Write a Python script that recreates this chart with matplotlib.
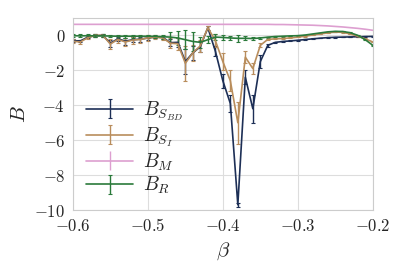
import matplotlib
matplotlib.use("Agg")
import matplotlib.pyplot as plt
from matplotlib.ticker import FuncFormatter
import seaborn as sns

sns.set_style("whitegrid")
plt.rcParams['mathtext.fontset'] = 'cm'
plt.rcParams['font.family'] = ['DejaVu Serif']

beta = [-0.60, -0.59, -0.58, -0.57, -0.56, -0.55, -0.54, -0.53, -0.52, -0.51,
        -0.50, -0.49, -0.48, -0.47, -0.46, -0.45, -0.44, -0.43, -0.42, -0.41,
        -0.40, -0.39, -0.38, -0.37, -0.36, -0.35, -0.34, -0.33, -0.32, -0.31,
        -0.30, -0.29, -0.28, -0.27, -0.26, -0.25, -0.24, -0.23, -0.22, -0.21,
        -0.20]

b_sbd = [-0.30, -0.32, -0.10, -0.02, 0.00, -0.45, -0.20, -0.33, -0.25, -0.22,
         -0.15, -0.10, -0.12, -0.42, -0.40, -1.50, -1.00, -0.65, 0.44, -0.90,
         -2.60, -3.90, -9.70, -2.40, -4.20, -1.50, -0.57, -0.40, -0.35, -0.32,
         -0.28, -0.24, -0.20, -0.16, -0.13, -0.11, -0.10, -0.09, -0.08, -0.07,
         -0.06]
err_sbd = [0.08, 0.08, 0.08, 0.08, 0.08, 0.20, 0.12, 0.20, 0.15, 0.15,
           0.12, 0.08, 0.08, 0.20, 0.25, 0.70, 0.40, 0.30, 0.12, 0.30,
           0.40, 0.50, 0.10, 0.40, 0.80, 0.35, 0.08, 0.04, 0.03, 0.03,
           0.02, 0.02, 0.02, 0.02, 0.02, 0.02, 0.02, 0.02, 0.02, 0.02,
           0.02]

b_si = [-0.34, -0.38, -0.13, 0.00, 0.00, -0.50, -0.23, -0.38, -0.27, -0.23,
        -0.15, -0.10, -0.15, -0.45, -0.48, -1.60, -1.00, -0.60, 0.44, -0.30,
        -1.50, -2.60, -5.00, -1.25, -1.90, -0.57, -0.23, -0.20, -0.18, -0.15,
        -0.10, -0.05, 0.02, 0.08, 0.14, 0.19, 0.17, 0.08, -0.05, -0.20,
        -0.38]
err_si = [0.12, 0.12, 0.08, 0.08, 0.08, 0.30, 0.18, 0.25, 0.20, 0.20,
          0.15, 0.12, 0.12, 0.30, 0.35, 1.00, 0.45, 0.35, 0.12, 0.35,
          0.50, 0.60, 1.20, 0.35, 0.30, 0.12, 0.04, 0.03, 0.03, 0.03,
          0.02, 0.02, 0.02, 0.02, 0.02, 0.02, 0.02, 0.02, 0.02, 0.02,
          0.02]

b_m = [0.63, 0.63, 0.63, 0.63, 0.63, 0.63, 0.63, 0.63, 0.63, 0.63,
       0.63, 0.63, 0.63, 0.63, 0.63, 0.63, 0.63, 0.63, 0.63, 0.63,
       0.63, 0.63, 0.63, 0.63, 0.63, 0.63, 0.63, 0.62, 0.62, 0.61,
       0.60, 0.59, 0.58, 0.56, 0.54, 0.51, 0.48, 0.44, 0.40, 0.35,
       0.29]
err_m = [0.0] * len(beta)

b_r = [-0.02, -0.03, -0.02, -0.03, -0.03, -0.04, -0.05, -0.05, -0.05, -0.05,
       -0.05, -0.06, -0.08, -0.10, -0.15, -0.25, -0.35, -0.40, -0.25, -0.10,
       -0.12, -0.15, -0.17, -0.17, -0.18, -0.15, -0.10, -0.07, -0.05, -0.03,
       -0.02, 0.02, 0.08, 0.14, 0.20, 0.23, 0.22, 0.15, 0.00, -0.25,
       -0.57]
err_r = [0.08, 0.08, 0.08, 0.08, 0.08, 0.08, 0.08, 0.08, 0.08, 0.08,
         0.08, 0.08, 0.12, 0.30, 0.40, 0.55, 0.55, 0.30, 0.20, 0.15,
         0.12, 0.12, 0.20, 0.12, 0.08, 0.05, 0.03, 0.02, 0.02, 0.02,
         0.02, 0.02, 0.02, 0.02, 0.02, 0.02, 0.02, 0.02, 0.02, 0.02,
         0.02]

fig = plt.figure(figsize=(4.07, 2.71), dpi=100)
ax = fig.add_axes([0.179, 0.225, 0.737, 0.709])

kw = dict(lw=1.2, elinewidth=1.0, capsize=1.2, capthick=0.8)
ax.errorbar(beta, b_sbd, yerr=err_sbd, color='#1d2f56', label=r'$B_{S_{BD}}$', **kw)
ax.errorbar(beta, b_si, yerr=err_si, color='#b98d5c', label=r'$B_{S_I}$', **kw)
ax.errorbar(beta, b_m, yerr=err_m, color='#dd9fd0', label=r'$B_M$',
            lw=1.2, elinewidth=1.0, capsize=0)
ax.errorbar(beta, b_r, yerr=err_r, color='#2b7a3b', label=r'$B_R$', **kw)

ax.set_xlim(-0.6, -0.2)
ax.set_ylim(-10, 1.0)
ax.set_xticks([-0.6, -0.5, -0.4, -0.3, -0.2])
ax.set_yticks([-10, -8, -6, -4, -2, 0])
ax.xaxis.set_major_formatter(FuncFormatter(lambda v, p: r'$%.1f$' % v))
ax.yaxis.set_major_formatter(FuncFormatter(lambda v, p: r'$%d$' % round(v)))
ax.tick_params(labelsize=12, pad=2)
ax.set_xlabel(r'$\beta$', fontsize=15)
ax.set_ylabel(r'$B$', fontsize=15)
for s in ax.spines.values():
    s.set_color('#cccccc')
ax.grid(color='#dddddd')

ax.legend(loc='lower left', fontsize=14, frameon=False, handlelength=2.4,
          handletextpad=0.5, borderaxespad=0.3, labelspacing=0.12)

fig.savefig("out.png", dpi=100)
